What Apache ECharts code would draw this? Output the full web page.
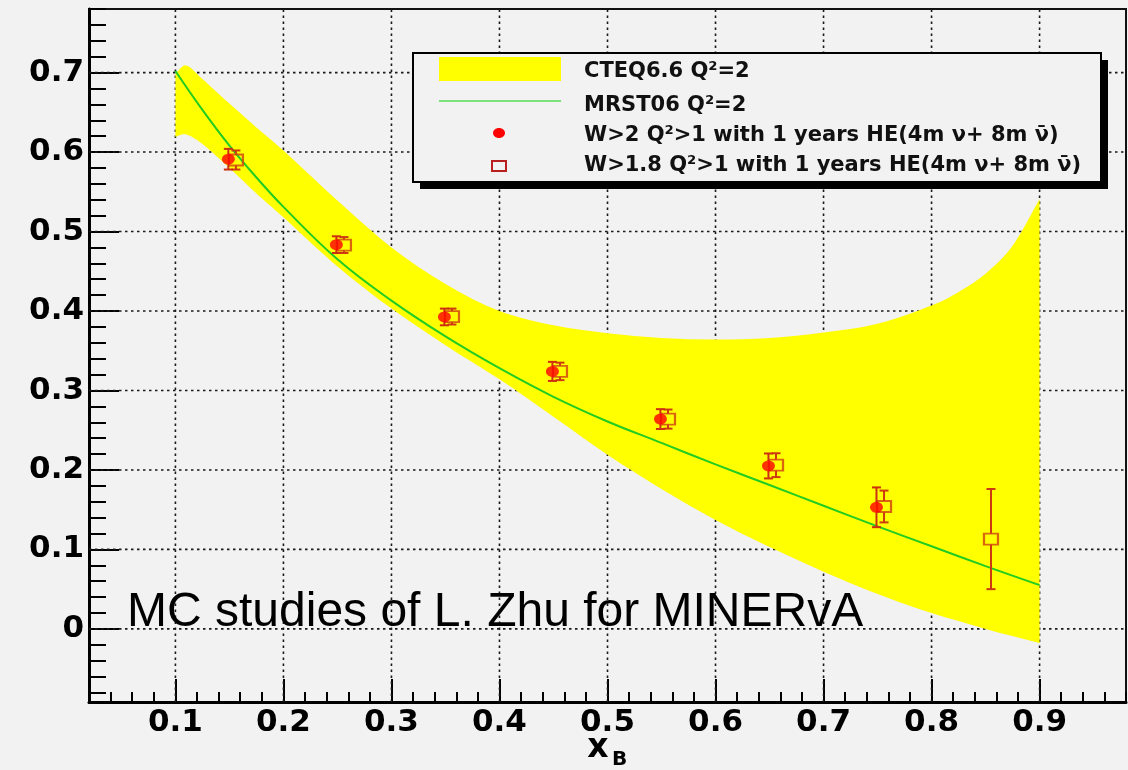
<!DOCTYPE html>
<html>
<head>
<meta charset="utf-8">
<script src="https://cdn.jsdelivr.net/npm/echarts@6/dist/echarts.min.js"></script>
<style>
html,body{margin:0;padding:0;background:#f2f2f2;}
#c{width:1128px;height:770px;}
</style>
</head>
<body>
<div id="c"></div>
<script>
// ---- tick values ----
const xMajorTicks = [0.1, 0.2, 0.3, 0.4, 0.5, 0.6, 0.7, 0.8, 0.9];
const xMinorTicks = [0.02, 0.04, 0.06, 0.08, 0.10, 0.12, 0.14, 0.16, 0.18, 0.20, 0.22, 0.24, 0.26, 0.28, 0.30,
  0.32, 0.34, 0.36, 0.38, 0.40, 0.42, 0.44, 0.46, 0.48, 0.50, 0.52, 0.54, 0.56, 0.58, 0.60, 0.62, 0.64, 0.66,
  0.68, 0.70, 0.72, 0.74, 0.76, 0.78, 0.80, 0.82, 0.84, 0.86, 0.88, 0.90, 0.92, 0.94, 0.96, 0.98];
const yMajorTicks = [0, 0.1, 0.2, 0.3, 0.4, 0.5, 0.6, 0.7];
const yMinorTicks = [-0.08, -0.06, -0.04, -0.02, 0, 0.02, 0.04, 0.06, 0.08, 0.10, 0.12, 0.14, 0.16, 0.18, 0.20,
  0.22, 0.24, 0.26, 0.28, 0.30, 0.32, 0.34, 0.36, 0.38, 0.40, 0.42, 0.44, 0.46, 0.48, 0.50, 0.52, 0.54, 0.56,
  0.58, 0.60, 0.62, 0.64, 0.66, 0.68, 0.70, 0.72, 0.74, 0.76, 0.78];

// ---- CTEQ6.6 band ----
const bandX     = [0.10, 0.11, 0.125, 0.15, 0.175, 0.20, 0.25, 0.30, 0.35, 0.40, 0.45, 0.50, 0.55, 0.60, 0.65, 0.70, 0.75, 0.80, 0.825, 0.85, 0.875, 0.90];
const bandUpper = [0.698, 0.709, 0.692, 0.661, 0.631, 0.602, 0.539, 0.480, 0.434, 0.400, 0.382, 0.372, 0.366, 0.364, 0.366, 0.373, 0.384, 0.407, 0.424, 0.447, 0.482, 0.541];
const bandLower = [0.619, 0.622, 0.610, 0.580, 0.548, 0.518, 0.456, 0.403, 0.357, 0.314, 0.267, 0.219, 0.176, 0.137, 0.103, 0.072, 0.044, 0.020, 0.010, 0.000, -0.009, -0.018];

// ---- MRST06 curve ----
const mrstX = [0.10, 0.125, 0.15, 0.175, 0.20, 0.25, 0.30, 0.35, 0.40, 0.45, 0.50, 0.55, 0.60, 0.65, 0.70, 0.75, 0.80, 0.85, 0.90];
const mrstY = [0.702, 0.653, 0.608, 0.568, 0.531, 0.465, 0.413, 0.368, 0.328, 0.292, 0.261, 0.234, 0.207, 0.181, 0.155, 0.129, 0.104, 0.079, 0.055];

// ---- W>2 (filled circles) ----
const circX   = [0.149, 0.249, 0.349, 0.449, 0.549, 0.649, 0.749];
const circY   = [0.591, 0.4835, 0.3925, 0.324, 0.264, 0.205, 0.153];
const circErr = [0.013, 0.0105, 0.0105, 0.012, 0.0125, 0.0157, 0.025];

// ---- W>1.8 (open squares) ----
const sqX   = [0.156, 0.256, 0.356, 0.456, 0.556, 0.656, 0.756, 0.855];
const sqY   = [0.590, 0.483, 0.393, 0.324, 0.264, 0.206, 0.154, 0.113];
const sqErr = [0.012, 0.010, 0.010, 0.011, 0.012, 0.015, 0.020, 0.063];

const Y_MIN = -0.092, Y_MAX = 0.78, X_MIN = 0.02, X_MAX = 0.98;

function smoothPath(pts, start) {
  let d = (start ? 'M' : 'L') + pts[0][0] + ',' + pts[0][1];
  for (let i = 0; i < pts.length - 1; i++) {
    const p0 = pts[Math.max(i - 1, 0)], p1 = pts[i], p2 = pts[i + 1], p3 = pts[Math.min(i + 2, pts.length - 1)];
    const c1 = [p1[0] + (p2[0] - p0[0]) / 6, p1[1] + (p2[1] - p0[1]) / 6];
    const c2 = [p2[0] - (p3[0] - p1[0]) / 6, p2[1] - (p3[1] - p1[1]) / 6];
    d += 'C' + c1[0] + ',' + c1[1] + ' ' + c2[0] + ',' + c2[1] + ' ' + p2[0] + ',' + p2[1];
  }
  return d;
}

function errBarRender(color, halfMarker) {
  return function (params, api) {
    const x = api.value(0), y = api.value(1), e = api.value(2);
    const top = api.coord([x, y + e]);
    const bot = api.coord([x, y - e]);
    const c = api.coord([x, y]);
    const cap = 4.5;
    const st = { stroke: color, lineWidth: 2, fill: null };
    const children = [
      { type: 'line', shape: { x1: top[0], y1: top[1], x2: top[0], y2: Math.min(c[1] - halfMarker, bot[1]) }, style: st },
      { type: 'line', shape: { x1: bot[0], y1: Math.max(c[1] + halfMarker, top[1]), x2: bot[0], y2: bot[1] }, style: st },
      { type: 'line', shape: { x1: top[0] - cap, y1: top[1], x2: top[0] + cap, y2: top[1] }, style: st },
      { type: 'line', shape: { x1: bot[0] - cap, y1: bot[1], x2: bot[0] + cap, y2: bot[1] }, style: st }
    ];
    return { type: 'group', children: children };
  };
}

const gridLineStyle = { stroke: '#1a1a1a', lineWidth: 1.6, lineDash: [2.5, 3.5], fill: null };
const font = 'DejaVu Sans';
const ellipse = 'path://M0,50 A50,50 0 1 1 100,50 A50,50 0 1 1 0,50 Z';

const option = {
  backgroundColor: '#f2f2f2',
  animation: false,
  grid: {
    left: 89, right: 2, top: 9, bottom: 68,
    show: true, borderColor: '#111', borderWidth: 2, backgroundColor: 'transparent',
    containLabel: false, outerBoundsMode: 'none'
  },
  xAxis: [
    {
      type: 'value', min: X_MIN, max: X_MAX, position: 'bottom',
      axisLine: { show: true, onZero: false, lineStyle: { color: '#000', width: 3 } },
      axisTick: { show: true, inside: true, length: 23, customValues: xMajorTicks, lineStyle: { color: '#000', width: 2 } },
      axisLabel: { show: true, customValues: xMajorTicks, formatter: v => v.toFixed(1), fontFamily: font, fontWeight: 'bold', fontSize: 31, color: '#000', margin: 5 },
      splitLine: { show: false }
    },
    {
      type: 'value', min: X_MIN, max: X_MAX, position: 'bottom', offset: 0,
      axisLine: { show: false, onZero: false },
      axisTick: { show: true, inside: true, length: 10, customValues: xMinorTicks, lineStyle: { color: '#000', width: 2 } },
      axisLabel: { show: false },
      splitLine: { show: false }
    }
  ],
  yAxis: [
    {
      type: 'value', min: Y_MIN, max: Y_MAX, position: 'left',
      axisLine: { show: true, onZero: false, lineStyle: { color: '#000', width: 3 } },
      axisTick: { show: true, inside: true, length: 30, customValues: yMajorTicks, lineStyle: { color: '#000', width: 2 } },
      axisLabel: { show: true, customValues: yMajorTicks, formatter: v => (v === 0 ? '0' : v.toFixed(1)), fontFamily: font, fontWeight: 'bold', fontSize: 31, color: '#000', margin: 5 },
      splitLine: { show: false }
    },
    {
      type: 'value', min: Y_MIN, max: Y_MAX, position: 'left', offset: 0,
      axisLine: { show: false, onZero: false },
      axisTick: { show: true, inside: true, length: 17, customValues: yMinorTicks, lineStyle: { color: '#000', width: 2 } },
      axisLabel: { show: false },
      splitLine: { show: false }
    }
  ],
  series: [
    { // vertical dotted grid
      type: 'custom', z: 1, silent: true, xAxisIndex: 0, yAxisIndex: 0,
      data: xMajorTicks.map(v => [v]),
      renderItem: function (params, api) {
        const a = api.coord([api.value(0), Y_MIN]), b = api.coord([api.value(0), Y_MAX]);
        return { type: 'line', shape: { x1: a[0], y1: a[1], x2: b[0], y2: b[1] }, style: gridLineStyle };
      }
    },
    { // horizontal dotted grid
      type: 'custom', z: 1, silent: true, xAxisIndex: 0, yAxisIndex: 0,
      data: yMajorTicks.map(v => [X_MIN, v]),
      renderItem: function (params, api) {
        const a = api.coord([X_MIN, api.value(1)]), b = api.coord([X_MAX, api.value(1)]);
        return { type: 'line', shape: { x1: a[0], y1: a[1], x2: b[0], y2: b[1] }, style: gridLineStyle };
      }
    },
    { // CTEQ6.6 band
      name: 'CTEQ6.6 Q²=2', type: 'custom', z: 2, silent: true, xAxisIndex: 0, yAxisIndex: 0,
      data: [[bandX[0], bandUpper[0]]],
      renderItem: function (params, api) {
        const up = bandX.map((x, i) => api.coord([x, bandUpper[i]]));
        const lo = bandX.map((x, i) => api.coord([x, bandLower[i]])).reverse();
        const d = smoothPath(up, true) + smoothPath(lo, false) + 'Z';
        return { type: 'path', shape: { pathData: d }, style: { fill: '#ffff00', stroke: null } };
      }
    },
    { // MRST06
      name: 'MRST06 Q²=2', type: 'line', z: 3, xAxisIndex: 0, yAxisIndex: 0,
      data: mrstX.map((x, i) => [x, mrstY[i]]),
      smooth: 0.4, showSymbol: false, symbol: 'none',
      lineStyle: { color: '#22cc22', width: 2 }
    },
    { // square error bars
      type: 'custom', z: 4, silent: true, xAxisIndex: 0, yAxisIndex: 0,
      data: sqX.map((x, i) => [x, sqY[i], sqErr[i]]),
      renderItem: errBarRender('#cc3a12', 5.5)
    },
    { // squares
      name: 'W>1.8', type: 'scatter', z: 5, xAxisIndex: 0, yAxisIndex: 0,
      data: sqX.map((x, i) => [x, sqY[i]]),
      symbol: 'rect', symbolSize: [14, 11],
      itemStyle: { color: 'rgba(0,0,0,0)', borderColor: '#d04010', borderWidth: 2 }
    },
    { // circle error bars
      type: 'custom', z: 6, silent: true, xAxisIndex: 0, yAxisIndex: 0,
      data: circX.map((x, i) => [x, circY[i], circErr[i]]),
      renderItem: errBarRender('#cc3010', 5)
    },
    { // circles
      name: 'W>2', type: 'scatter', z: 7, xAxisIndex: 0, yAxisIndex: 0,
      data: circX.map((x, i) => [x, circY[i]]),
      symbol: ellipse, symbolSize: [13, 11],
      itemStyle: { color: '#ff0000' }
    }
  ],
  graphic: [
    { type: 'text', x: 127, y: 613, z: 50,
      style: { text: 'MC studies of L. Zhu for MINERvA', fontFamily: 'Liberation Sans', fontSize: 48, fill: '#000', verticalAlign: 'middle', align: 'left' } },
    { type: 'text', x: 598, y: 748, z: 50,
      style: { text: 'x', fontFamily: font, fontWeight: 'bold', fontSize: 33, fill: '#000', verticalAlign: 'middle', align: 'center' } },
    { type: 'text', x: 612, y: 760, z: 50,
      style: { text: 'B', fontFamily: font, fontWeight: 'bold', fontSize: 20, fill: '#000', verticalAlign: 'middle', align: 'left' } },
    // legend
    { type: 'rect', z: 60, shape: { x: 420, y: 60, width: 688, height: 129 }, style: { fill: '#000' } },
    { type: 'rect', z: 61, shape: { x: 413, y: 53, width: 688, height: 129 }, style: { fill: '#f2f2f2', stroke: '#000', lineWidth: 2 } },
    { type: 'rect', z: 62, shape: { x: 439, y: 57, width: 122, height: 24 }, style: { fill: '#ffff00' } },
    { type: 'line', z: 62, shape: { x1: 439, y1: 101, x2: 561, y2: 101 }, style: { stroke: '#55dd55', lineWidth: 1.5 } },
    { type: 'ellipse', z: 62, shape: { cx: 499, cy: 133, rx: 6, ry: 5 }, style: { fill: '#ff0000' } },
    { type: 'rect', z: 62, shape: { x: 492, y: 161, width: 14, height: 10 }, style: { fill: 'none', stroke: '#b82020', lineWidth: 2 } },
    { type: 'text', z: 62, x: 584, y: 72, style: { text: 'CTEQ6.6 Q²=2', fontFamily: font, fontWeight: 'bold', fontSize: 21, fill: '#111', verticalAlign: 'middle' } },
    { type: 'text', z: 62, x: 584, y: 106, style: { text: 'MRST06 Q²=2', fontFamily: font, fontWeight: 'bold', fontSize: 21, fill: '#111', verticalAlign: 'middle' } },
    { type: 'text', z: 62, x: 584, y: 136, style: { text: 'W>2 Q²>1 with 1 years HE(4m ν+ 8m ν\u0304)', fontFamily: font, fontWeight: 'bold', fontSize: 21, fill: '#111', verticalAlign: 'middle' } },
    { type: 'text', z: 62, x: 584, y: 166, style: { text: 'W>1.8 Q²>1 with 1 years HE(4m ν+ 8m ν\u0304)', fontFamily: font, fontWeight: 'bold', fontSize: 21, fill: '#111', verticalAlign: 'middle' } }
  ]
};

const chart = echarts.init(document.getElementById('c'), null, { renderer: 'canvas' });
chart.setOption(option);
</script>
</body>
</html>
